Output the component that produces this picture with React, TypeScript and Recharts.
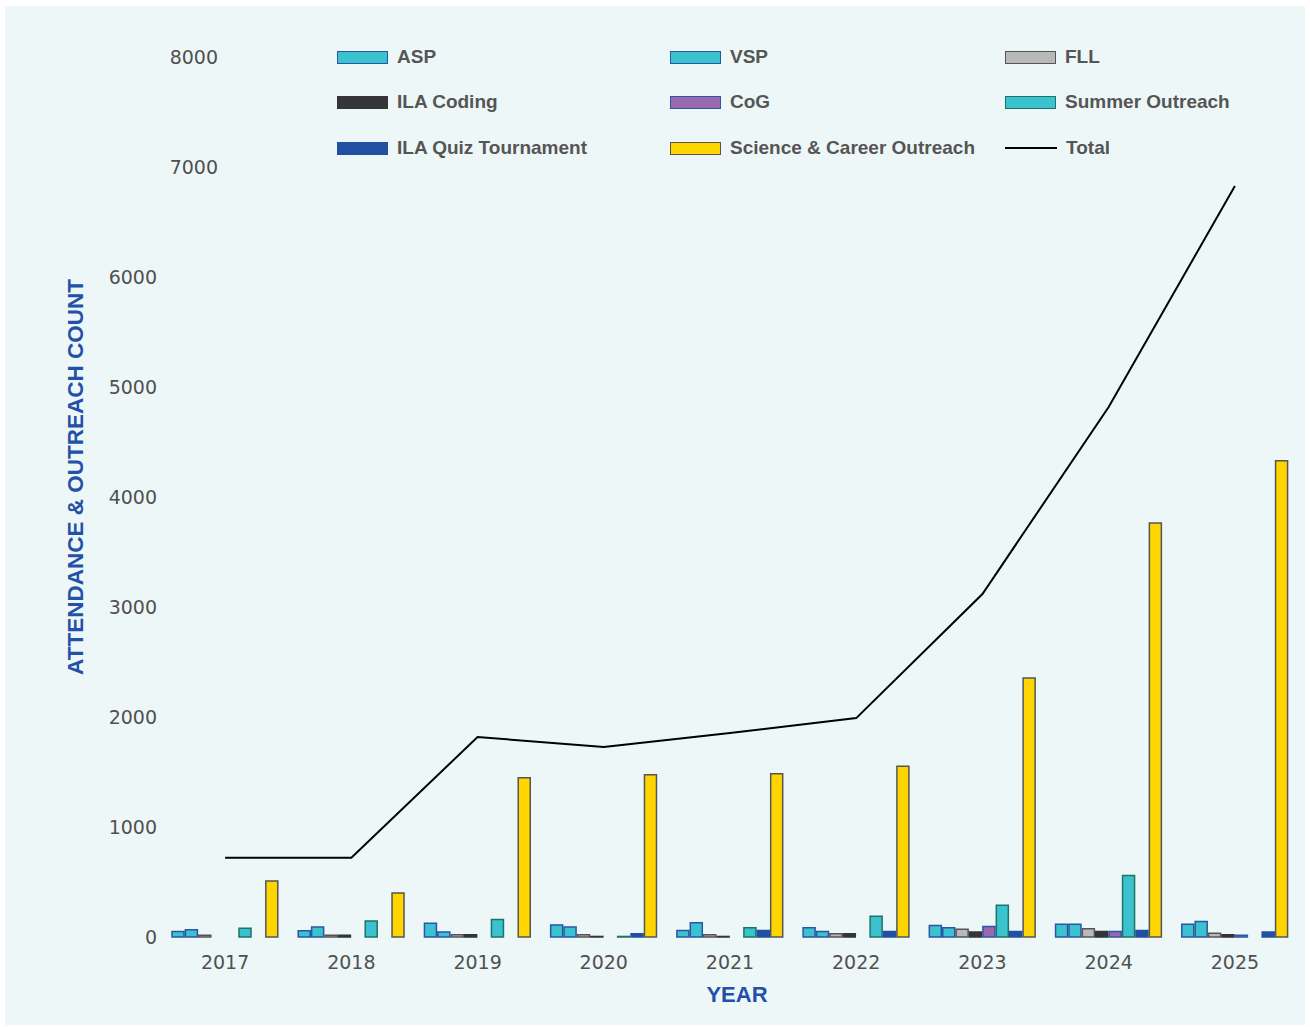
import React from 'react';
import { ComposedChart, Bar, Line, XAxis, YAxis } from 'recharts';

const YEARS = ['2017', '2018', '2019', '2020', '2021', '2022', '2023', '2024', '2025'];
const ASP = [50, 57, 125, 110, 60, 85, 105, 115, 115];
const VSP = [65, 90, 45, 90, 130, 50, 85, 115, 142];
const FLL = [15, 15, 20, 20, 20, 30, 70, 75, 33];
const ILA_CODING = [0, 15, 20, 5, 5, 30, 45, 50, 20];
const COG = [0, 0, 0, 0, 0, 0, 95, 50, 15];
const SUMMER = [80, 145, 160, 5, 85, 188, 288, 560, 0];
const QUIZ = [0, 0, 0, 30, 60, 50, 50, 60, 45];
const SCIENCE = [510, 400, 1448, 1475, 1485, 1552, 2355, 3764, 4330];
const TOTAL = [720, 720, 1818, 1727, 1855, 1990, 3118, 4818, 6827];
const Y_TICKS = [0, 1000, 2000, 3000, 4000, 5000, 6000, 7000, 8000];

const SERIES = [
    { key: 'asp', label: 'ASP', values: ASP, fill: '#3BC2CF', stroke: '#2A55A5' },
    { key: 'vsp', label: 'VSP', values: VSP, fill: '#3BC2CF', stroke: '#2A55A5' },
    { key: 'fll', label: 'FLL', values: FLL, fill: '#B9B9B9', stroke: '#555555' },
    { key: 'ilaCoding', label: 'ILA Coding', values: ILA_CODING, fill: '#333538', stroke: '#333538' },
    { key: 'cog', label: 'CoG', values: COG, fill: '#9A68AC', stroke: '#2E55A8' },
    { key: 'summer', label: 'Summer Outreach', values: SUMMER, fill: '#3BC2CF', stroke: '#1B7466' },
    { key: 'quiz', label: 'ILA Quiz Tournament', values: QUIZ, fill: '#2150A3', stroke: '#2150A3' },
    { key: 'science', label: 'Science & Career Outreach', values: SCIENCE, fill: '#FFD500', stroke: '#555555' },
];

const data = YEARS.map((year, i) => {
    const row: Record<string, string | number> = { year, total: TOTAL[i] };
    SERIES.forEach(s => { row[s.key] = s.values[i]; });
    return row;
});

const TICK_FONT = '"DejaVu Sans", sans-serif';
const LABEL_FONT = '"Liberation Sans", Arial, sans-serif';

// eslint-disable-next-line @typescript-eslint/no-explicit-any
function YTick({ x, y, payload }: any) {
    // the two top labels sit further right in the original
    const shift = payload.value >= 7000 ? 61 : 0;
    return (
        <text x={x + shift} y={y} dy={7} textAnchor="end" fontFamily={TICK_FONT} fontSize={19} fill="#505050">
            {payload.value}
        </text>
    );
}

// eslint-disable-next-line @typescript-eslint/no-explicit-any
function XTick({ x, y, payload }: any) {
    return (
        <text x={x} y={y} dy={14} textAnchor="middle" fontFamily={TICK_FONT} fontSize={19} fill="#505050">
            {payload.value}
        </text>
    );
}

const LEGEND_ITEMS = [
    ...SERIES.map(s => ({ label: s.label, fill: s.fill, stroke: s.stroke, line: false })),
    { label: 'Total', fill: '#000', stroke: '#000', line: true },
];

function ChartLegend() {
    const colX = [332, 665, 1000];
    const rowY = [51, 96, 142];
    return (
        <>
            {LEGEND_ITEMS.map((item, i) => (
                <div
                    key={`lg-${item.label}`}
                    style={{
                        position: 'absolute', left: colX[i % 3], top: rowY[Math.floor(i / 3)] - 12, height: 24,
                        display: 'flex', alignItems: 'center', gap: 9, whiteSpace: 'nowrap',
                    }}
                >
                    {item.line ? (
                        <span style={{ width: 52, height: 14, display: 'flex', alignItems: 'center' }}>
                            <span style={{ width: 52, height: 2.5, background: '#000' }} />
                        </span>
                    ) : (
                        <span style={{ width: 49, height: 11, background: item.fill, border: `1.5px solid ${item.stroke}` }} />
                    )}
                    <span style={{ fontFamily: LABEL_FONT, fontSize: 19, fontWeight: 700, color: '#555555' }}>{item.label}</span>
                </div>
            ))}
        </>
    );
}

export default function App() {
    return (
        <div style={{ position: 'absolute', left: 5, top: 6, width: 1300, height: 1019, background: '#EEF7F7' }}>
            <ComposedChart
                width={1300}
                height={1019}
                data={data}
                margin={{ top: 51, right: 7, bottom: 58, left: 97 }}
                barSize={12}
                barGap={1.4}
            >
                <XAxis dataKey="year" axisLine={false} tickLine={false} tickSize={0} tickMargin={18} height={30} tick={<XTick />} />
                <YAxis
                    domain={[0, 8000]}
                    ticks={Y_TICKS}
                    axisLine={false}
                    tickLine={false}
                    tickSize={0}
                    tickMargin={5}
                    width={60}
                    tick={<YTick />}
                />
                {SERIES.map(s => (
                    <Bar key={s.key} dataKey={s.key} fill={s.fill} stroke={s.stroke} strokeWidth={1.5} isAnimationActive={false} />
                ))}
                <Line type="linear" dataKey="total" stroke="#000000" strokeWidth={2} dot={false} activeDot={false} isAnimationActive={false} />
            </ComposedChart>

            <ChartLegend />

            <div
                style={{
                    position: 'absolute', left: 71, top: 471, transform: 'translate(-50%, -50%) rotate(-90deg)',
                    fontFamily: LABEL_FONT, fontSize: 22.5, fontWeight: 700, color: '#2350A8', whiteSpace: 'nowrap',
                }}
            >
                ATTENDANCE &amp; OUTREACH COUNT
            </div>
            <div
                style={{
                    position: 'absolute', left: 732, top: 989, transform: 'translate(-50%, -50%)',
                    fontFamily: LABEL_FONT, fontSize: 22, fontWeight: 700, color: '#2350A8', whiteSpace: 'nowrap',
                }}
            >
                YEAR
            </div>
        </div>
    );
}
